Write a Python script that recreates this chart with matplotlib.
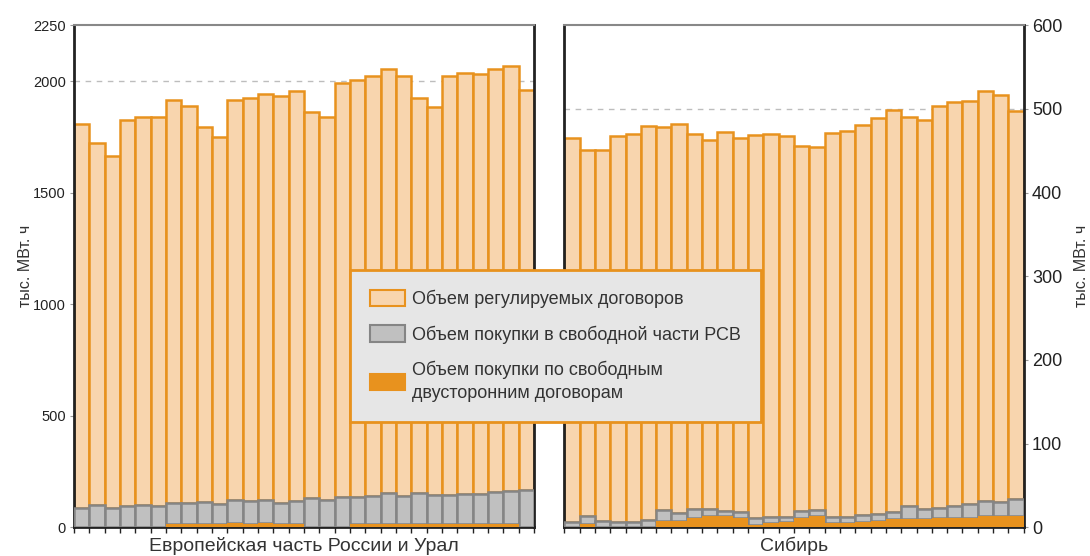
import matplotlib
matplotlib.use("Agg")
import matplotlib.pyplot as plt
from matplotlib.patches import Patch
import numpy as np

plt.rcParams['font.family'] = ['Liberation Sans', 'DejaVu Sans']

# Европейская часть России и Урал (30 периодов)
euro_bilateral = [0, 0, 0, 0, 0, 0, 13, 13, 13, 13, 20, 14, 20, 13, 13,
                  0, 0, 0, 13, 13, 13, 13, 15, 15, 15, 15, 15, 15, 15, 0]
euro_free = [88, 102, 85, 94, 99, 94, 96, 96, 99, 90, 101, 103, 101, 95, 107,
             131, 121, 136, 121, 126, 141, 126, 140, 128, 128, 133, 133, 143, 148, 166]
euro_regulated = [1719, 1620, 1580, 1732, 1738, 1744, 1807, 1780, 1682, 1646,
                  1795, 1808, 1821, 1823, 1836, 1730, 1716, 1856, 1872, 1885,
                  1898, 1883, 1769, 1740, 1881, 1886, 1882, 1896, 1905, 1795]

# Сибирь (30 периодов)
sib_bilateral = [0, 4, 0, 0, 0, 0, 8, 8, 11, 13, 13, 11.5, 3, 5, 6,
                 11.5, 13, 5, 5, 6, 7.5, 9.5, 10, 10.5, 11, 11, 11, 13, 13.5, 14]
sib_free = [6, 9.5, 7, 6, 6.5, 8.4, 13, 9.5, 11, 9, 7, 6.5, 8, 7, 6.5,
            8.5, 8, 7.5, 7.5, 8.3, 8.8, 9.2, 15, 11.5, 11.5, 15, 16.5, 18, 17, 19.5]
sib_regulated = [459, 437.5, 444, 462, 463.5, 471.6, 458, 464.5, 448, 441,
                 453, 447, 458, 458, 455.5, 436, 434, 458.5, 461.5, 466.7,
                 472.7, 480.3, 465, 465, 481.5, 482, 481.5, 490, 486.5, 464.5]

labels = ["Объем регулируемых договоров",
          "Объем покупки в свободной части РСВ",
          "Объем покупки по свободным\nдвусторонним договорам"]

LIGHT = "#F8D5AE"
ORANGE = "#E8921E"
GRAY = "#C0C0C0"
GRAY_EDGE = "#858585"
TEXT = "#333333"


def draw_panel(ax, bil, free, reg, ymax, yticks, ref, side):
    x = np.arange(len(reg))
    bil = np.array(bil, dtype=float)
    free = np.array(free, dtype=float)
    reg = np.array(reg, dtype=float)
    ax.axhline(ref, color="#BDBDBD", lw=1, dashes=(4, 4), zorder=0)
    ax.bar(x, reg, width=1.0, bottom=bil + free, color=LIGHT,
           edgecolor=ORANGE, linewidth=1.8, zorder=2)
    ax.bar(x, free, width=1.0, bottom=bil, color=GRAY,
           edgecolor=GRAY_EDGE, linewidth=1.8, zorder=3)
    ax.bar(x, bil, width=1.0, color=ORANGE, edgecolor="none",
           linewidth=0, zorder=4)
    ax.set_xlim(-0.5, len(reg) - 0.5)
    ax.set_ylim(0, ymax)
    ax.set_xticks(np.arange(len(reg) + 1) - 0.5)
    ax.set_xticklabels([])
    ax.tick_params(axis="x", length=4, width=1, color="#222222")
    ax.set_yticks(yticks)
    for s in ("left", "right", "bottom"):
        ax.spines[s].set_color("#222222")
        ax.spines[s].set_linewidth(2)
    ax.spines["top"].set_color("#888888")
    ax.spines["top"].set_linewidth(1.5)
    if side == "right":
        ax.yaxis.tick_right()
        ax.yaxis.set_label_position("right")
    ax.tick_params(axis="y", length=3, width=0.8, color="#999999", pad=3,
                   labelcolor="#222222")


fig = plt.figure(figsize=(10.9, 5.56), dpi=100)
ax1 = fig.add_axes([0.0679, 0.0516, 0.4220, 0.9029])
ax2 = fig.add_axes([0.5177, 0.0516, 0.4215, 0.9029])

draw_panel(ax1, euro_bilateral, euro_free, euro_regulated, 2250,
           [0, 500, 1000, 1500, 2000, 2250], 2000, "left")
draw_panel(ax2, sib_bilateral, sib_free, sib_regulated, 600,
           [0, 100, 200, 300, 400, 500, 600], 500, "right")

ax1.tick_params(axis="y", labelsize=10.5)
ax2.tick_params(axis="y", labelsize=13)

ax1.set_ylabel("тыс. МВт. ч", fontsize=11.5, color=TEXT)
ax2.set_ylabel("тыс. МВт. ч", fontsize=11.5, color=TEXT)
ax1.yaxis.set_label_coords(-0.09, 0.52)
ax2.yaxis.set_label_coords(1.11, 0.52)

ax1.set_xlabel("Европейская часть России и Урал", fontsize=14, color=TEXT)
ax2.set_xlabel("Сибирь", fontsize=14, color=TEXT)
ax1.xaxis.set_label_coords(0.5, -0.019)
ax2.xaxis.set_label_coords(0.5, -0.019)

handles = [Patch(facecolor=LIGHT, edgecolor=ORANGE, linewidth=1.5),
           Patch(facecolor=GRAY, edgecolor=GRAY_EDGE, linewidth=1.5),
           Patch(facecolor=ORANGE, edgecolor=ORANGE, linewidth=1.5)]
leg = fig.legend(handles, labels, loc="upper left",
                 bbox_to_anchor=(0.3211, 0.5144), fontsize=13,
                 frameon=True, fancybox=False, framealpha=1,
                 facecolor="#E6E6E6", edgecolor=ORANGE,
                 handlelength=1.95, handleheight=1.0, handletextpad=0.4,
                 borderpad=1.1, labelspacing=0.95, borderaxespad=0)
leg.get_frame().set_linewidth(2)
leg.set_zorder(10)
for t in leg.get_texts():
    t.set_color(TEXT)
    t.set_linespacing(1.45)

fig.savefig("out.png", dpi=100)
